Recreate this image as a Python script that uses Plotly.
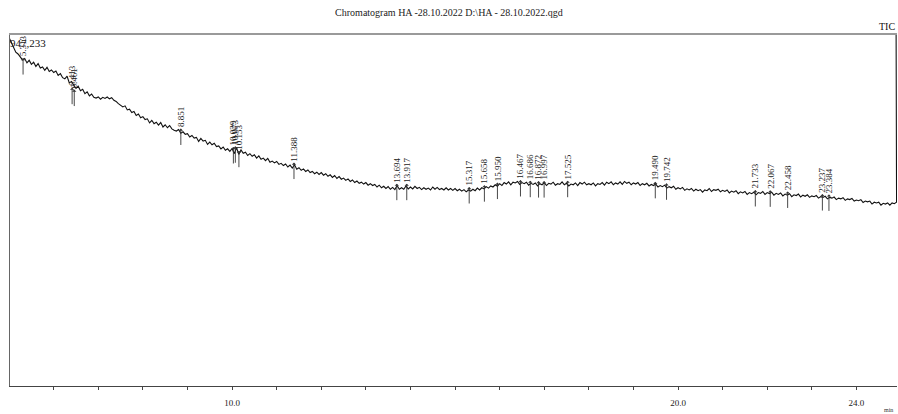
import numpy as np
import plotly.graph_objects as go

# Retention time grid start / step (min) and TIC intensity values (x1000 counts)
t_start = 5.00
t_step = 0.05
tic_k = [
    940, 927, 913, 901, 896, 887, 880, 884, 872, 879, 868, 874, 862, 870, 858, 861, 852, 860, 849, 853,
    846, 850, 838, 843, 832, 829, 836, 818, 822, 812, 803, 809, 797, 801, 789, 794, 783, 788, 779, 777,
    780, 774, 779, 776, 780, 775, 778, 771, 768, 762, 758, 753, 756, 745, 747, 738, 741, 730, 734, 724,
    727, 719, 721, 710, 717, 708, 712, 704, 711, 699, 705, 697, 703, 694, 690, 688, 692, 682, 686, 679,
    681, 672, 676, 669, 671, 660, 668, 661, 663, 652, 658, 651, 655, 646, 648, 640, 645, 636, 640, 633,
    641, 627, 643, 625, 637, 628, 631, 622, 627, 620, 624, 615, 621, 612, 615, 608, 614, 604, 607, 602,
    606, 598, 601, 595, 599, 591, 596, 588, 597, 585, 589, 582, 586, 579, 583, 576, 579, 573, 577, 571,
    576, 569, 573, 566, 570, 563, 568, 560, 565, 558, 561, 555, 559, 552, 556, 549, 553, 547, 550, 545,
    549, 542, 546, 541, 544, 537, 542, 535, 539, 533, 538, 531, 536, 530, 541, 531, 535, 531, 540, 532,
    537, 532, 539, 533, 536, 530, 535, 531, 534, 529, 537, 531, 536, 530, 533, 529, 535, 529, 533, 528,
    533, 527, 531, 526, 530, 524, 529, 526, 531, 527, 534, 529, 535, 532, 538, 534, 540, 537, 543, 539,
    546, 541, 549, 545, 551, 543, 550, 548, 552, 544, 549, 546, 550, 542, 547, 544, 548, 540, 546, 543,
    549, 541, 547, 545, 550, 542, 546, 544, 551, 543, 547, 540, 545, 543, 548, 541, 549, 545, 550, 543,
    546, 543, 548, 540, 546, 544, 549, 542, 550, 546, 551, 543, 548, 545, 551, 544, 552, 547, 550, 543,
    548, 545, 549, 541, 546, 543, 547, 540, 544, 541, 545, 537, 541, 538, 542, 534, 538, 535, 539, 531,
    535, 532, 536, 528, 532, 529, 533, 526, 531, 527, 530, 523, 529, 527, 533, 525, 530, 528, 531, 524,
    528, 525, 529, 521, 526, 523, 527, 519, 524, 521, 525, 517, 522, 519, 523, 516, 522, 520, 525, 517,
    522, 519, 523, 515, 520, 517, 521, 513, 518, 515, 519, 511, 516, 514, 518, 510, 515, 512, 516, 509,
    513, 511, 514, 507, 511, 509, 512, 505, 509, 507, 510, 503, 507, 505, 508, 501, 505, 503, 506, 499,
    502, 500, 503, 495, 499, 497, 499, 491, 496, 494, 496, 488, 493, 491, 494, 488, 494, 492, 496, 950,
]

# Detected peaks: retention time labels and heights (x1000 counts)
peak_rt = ["5.313", "6.413", "6.461", "8.851", "10.029", "10.073", "10.153", "11.388",
           "13.694", "13.917", "15.317", "15.658", "15.950", "16.467", "16.686", "16.872",
           "16.997", "17.525", "19.490", "19.742", "21.733", "22.067", "22.458", "23.237", "23.384"]
peak_h = [880, 800, 795, 690, 640, 642, 630, 598,
          541, 541, 532, 537, 544, 551, 549, 548,
          548, 549, 546, 542, 524, 523, 520, 513, 512]

x_ticks = [6, 7, 8, 9, 10, 11, 12, 13, 14, 15, 16, 17, 18, 19, 20, 21, 22, 23, 24]
x_tick_labels = {10: "10.0", 20: "20.0", 24: "24.0"}
y_max = 947233
x_range = [5.02, 24.91]

t = t_start + t_step * np.arange(len(tic_k))
intensity = np.array(tic_k) * 1000.0
t = t.copy()
t[-1] = 24.89

SERIF = "Liberation Serif"

fig = go.Figure()
fig.add_trace(go.Scatter(x=t, y=intensity, mode="lines",
                         line=dict(color="#111111", width=1.1), hoverinfo="skip", showlegend=False))

annotations = []
for rt, h in zip(peak_rt, peak_h):
    x = float(rt)
    y = h * 1000.0
    annotations.append(dict(x=x, y=y + 5000, xref="x", yref="y", text="", showarrow=True,
                            ax=0, ay=18, arrowhead=1, arrowsize=0.8, arrowwidth=0.9,
                            arrowcolor="#333333"))
    annotations.append(dict(x=x, y=y + 3000, xref="x", yref="y", text=rt, showarrow=False,
                            textangle=-90, xanchor="center", yanchor="bottom",
                            font=dict(family=SERIF, size=9, color="#222222")))

annotations.append(dict(x=0, y=1, xref="paper", yref="paper", text="947,233", showarrow=False,
                        xanchor="left", yanchor="top", xshift=-2, yshift=0,
                        font=dict(family=SERIF, size=11, color="#111111")))
annotations.append(dict(x=1, y=1, xref="paper", yref="paper", text="TIC", showarrow=False,
                        xanchor="right", yanchor="bottom", xshift=0, yshift=1,
                        font=dict(family=SERIF, size=10, color="#111111")))
annotations.append(dict(x=1, y=0, xref="paper", yref="paper", text="min", showarrow=False,
                        xanchor="right", yanchor="top", xshift=-2, yshift=-19,
                        font=dict(family=SERIF, size=6, color="#333333")))

fig.update_layout(
    width=898, height=414,
    margin=dict(l=10, r=1, t=35, b=28),
    paper_bgcolor="white", plot_bgcolor="white",
    title=dict(text="Chromatogram HA -28.10.2022 D:\\HA - 28.10.2022.qgd",
               x=0.5, xanchor="center", y=0.97, yanchor="middle",
               font=dict(family=SERIF, size=10, color="#222222")),
    xaxis=dict(range=x_range, tickmode="array", tickvals=x_ticks,
               ticktext=[x_tick_labels.get(v, "") for v in x_ticks],
               ticks="outside", ticklen=3, tickwidth=1, tickcolor="#444444",
               ticklabelstandoff=5,
               showline=True, linecolor="#444444", linewidth=1, showgrid=False, zeroline=False,
               tickfont=dict(family=SERIF, size=9, color="#222222")),
    xaxis2=dict(range=x_range, overlaying="x", side="top", showline=True,
                linecolor="#9a9a9a", linewidth=2, showticklabels=False, ticks="",
                showgrid=False, zeroline=False),
    yaxis=dict(range=[0, y_max], showticklabels=False, ticks="", showgrid=False, zeroline=False,
               showline=True, linecolor="#666666", linewidth=1),
    annotations=annotations,
)
# invisible trace bound to the top axis so that its line is drawn
fig.add_trace(go.Scatter(x=[x_range[0]], y=[None], xaxis="x2", mode="lines",
                         hoverinfo="skip", showlegend=False))

fig.write_html("out.html", config={"displayModeBar": False},
               post_script="document.body.style.margin='0';document.body.style.overflow='hidden';")
